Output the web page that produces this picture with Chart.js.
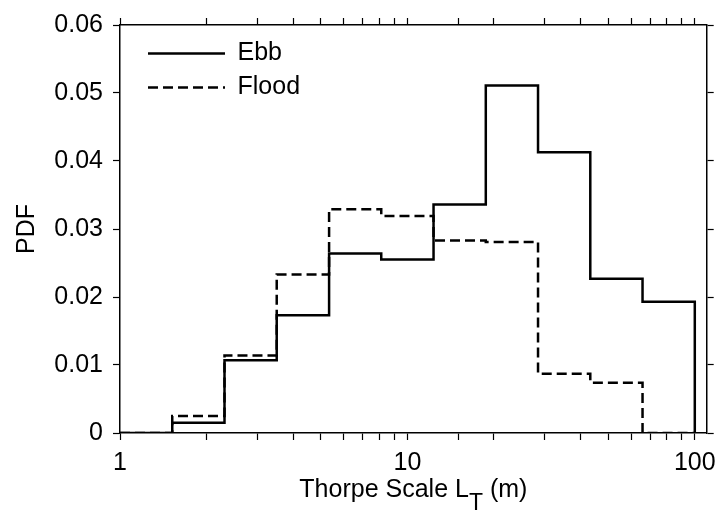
<!DOCTYPE html>
<html>
<head>
<meta charset="utf-8">
<script src="https://cdn.jsdelivr.net/npm/chart.js@4/dist/chart.umd.min.js"></script>
<style>
  html, body { margin: 0; padding: 0; background: #fff; }
  #wrap { width: 724px; height: 516px; }
</style>
</head>
<body>
<div id="wrap"><canvas id="pdfChart"></canvas></div>
<script>
// Thorpe scale bins (m): 11 log-spaced bins between 1 and 100
var binEdges = [1, 1.52, 2.31, 3.51, 5.34, 8.11, 12.33, 18.74, 28.48, 43.29, 65.79, 100];
var ebbPdf   = [0, 0.0015, 0.0107, 0.0173, 0.0264, 0.0255, 0.0336, 0.0511, 0.0413, 0.0227, 0.0193];
var floodPdf = [0, 0.0025, 0.0114, 0.0233, 0.0329, 0.0319, 0.0283, 0.0281, 0.0087, 0.0074, 0];
var xTickValues = [1, 10, 100];
var xTickLabels = ['1', '10', '100'];
var yTickLabels = ['0', '0.01', '0.02', '0.03', '0.04', '0.05', '0.06'];

var FONT = '"Liberation Sans", Arial, Helvetica, sans-serif';

// turn bin edges + bin heights into the outline of a step histogram
function histOutline(edges, vals) {
    var pts = [{x: edges[0], y: 0}];
    for (var i = 0; i < vals.length; i++) {
        pts.push({x: edges[i], y: vals[i]});
        pts.push({x: edges[i + 1], y: vals[i]});
    }
    pts.push({x: edges[edges.length - 1], y: 0});
    return pts;
}

function frameGrid() {
    return {
        display: true,
        drawOnChartArea: false,
        drawTicks: true,
        tickLength: 7,
        tickWidth: 1.2,
        tickColor: '#000'
    };
}

function dropOverflowTicks(scale) {
    scale.ticks = scale.ticks.filter(function(t) { return t.value <= 100; });
}

// x-axis title with a subscript, which the scale title can't do
var xTitlePlugin = {
    id: 'xTitleSub',
    afterDraw: function(chart) {
        var ctx = chart.ctx;
        var area = chart.chartArea;
        var main = 'Thorpe Scale L', sub = 'T', unit = ' (m)';
        ctx.save();
        ctx.fillStyle = '#000';
        ctx.textBaseline = 'alphabetic';
        ctx.textAlign = 'left';
        ctx.font = '25px ' + FONT;
        var w1 = ctx.measureText(main).width;
        var w3 = ctx.measureText(unit).width;
        ctx.font = '23px ' + FONT;
        var w2 = ctx.measureText(sub).width;
        var x = (area.left + area.right) / 2 - (w1 + w2 + w3) / 2;
        var y = chart.height - 19;
        ctx.font = '25px ' + FONT;
        ctx.fillText(main, x, y);
        ctx.font = '23px ' + FONT;
        ctx.fillText(sub, x + w1, y + 13);
        ctx.font = '25px ' + FONT;
        ctx.fillText(unit, x + w1 + w2, y);
        ctx.restore();
    }
};

// nudge the in-plot legend away from the corner
var legendShift = {
    id: 'legendShift',
    afterLayout: function(chart) {
        if (chart.legend) {
            chart.legend.left += 19;
            chart.legend.top += 32;
        }
    }
};

document.addEventListener('DOMContentLoaded', function() {
    Chart.defaults.font.family = FONT;
    Chart.defaults.font.size = 25;
    Chart.defaults.color = '#000';

    var baseLabels = Chart.defaults.plugins.legend.labels.generateLabels;

    var ctx = document.getElementById('pdfChart');
    new Chart(ctx, {
        type: 'line',
        data: {
            datasets: [{
                label: 'Ebb',
                data: histOutline(binEdges, ebbPdf),
                borderColor: '#000',
                borderWidth: 2.5,
                pointRadius: 0,
                fill: false,
                tension: 0
            }, {
                label: 'Flood',
                data: histOutline(binEdges, floodPdf),
                borderColor: '#000',
                borderWidth: 2.5,
                borderDash: [10, 5],
                pointRadius: 0,
                fill: false,
                tension: 0
            }]
        },
        options: {
            responsive: true,
            maintainAspectRatio: false,
            animation: false,
            layout: { padding: 0 },
            plugins: {
                legend: {
                    position: 'chartArea',
                    align: 'start',
                    labels: {
                        usePointStyle: true,
                        pointStyle: 'line',
                        pointStyleWidth: 77,
                        padding: 9,
                        color: '#000',
                        font: { size: 25 },
                        // point-style items lose the dataset's dash, put it back
                        generateLabels: function(chart) {
                            return baseLabels(chart).map(function(item) {
                                var ds = chart.data.datasets[item.datasetIndex];
                                item.lineDash = ds.borderDash || [];
                                item.lineWidth = 2.5;
                                item.strokeStyle = '#000';
                                return item;
                            });
                        }
                    }
                },
                tooltip: { enabled: false }
            },
            scales: {
                x: {
                    type: 'logarithmic',
                    position: 'bottom',
                    min: 1,
                    max: 110,
                    grid: frameGrid(),
                    border: { display: true, color: '#000', width: 1.5 },
                    afterBuildTicks: dropOverflowTicks,
                    afterFit: function(scale) { scale.height = 83; },
                    ticks: {
                        autoSkip: false,
                        maxRotation: 0,
                        padding: 8,
                        callback: function(value) {
                            var i = xTickValues.indexOf(value);
                            return i >= 0 ? xTickLabels[i] : '';
                        }
                    },
                    title: { display: false }
                },
                x2: {
                    type: 'logarithmic',
                    position: 'top',
                    min: 1,
                    max: 110,
                    grid: frameGrid(),
                    border: { display: true, color: '#000', width: 1.5 },
                    afterBuildTicks: dropOverflowTicks,
                    afterFit: function(scale) { scale.height = 17; },
                    ticks: { autoSkip: false, display: false }
                },
                y: {
                    position: 'left',
                    min: 0,
                    max: 0.06,
                    grid: frameGrid(),
                    border: { display: true, color: '#000', width: 1.5 },
                    afterFit: function(scale) { scale.width = 120; },
                    ticks: {
                        stepSize: 0.01,
                        padding: 10,
                        callback: function(value, index) { return yTickLabels[index]; }
                    },
                    title: {
                        display: true,
                        text: 'PDF',
                        font: { size: 25 },
                        padding: { top: 12, bottom: 0 }
                    }
                },
                y2: {
                    position: 'right',
                    min: 0,
                    max: 0.06,
                    grid: frameGrid(),
                    border: { display: true, color: '#000', width: 1.5 },
                    afterFit: function(scale) { scale.width = 16; },
                    ticks: { stepSize: 0.01, display: false }
                }
            }
        },
        plugins: [xTitlePlugin, legendShift]
    });
});
</script>
</body>
</html>
